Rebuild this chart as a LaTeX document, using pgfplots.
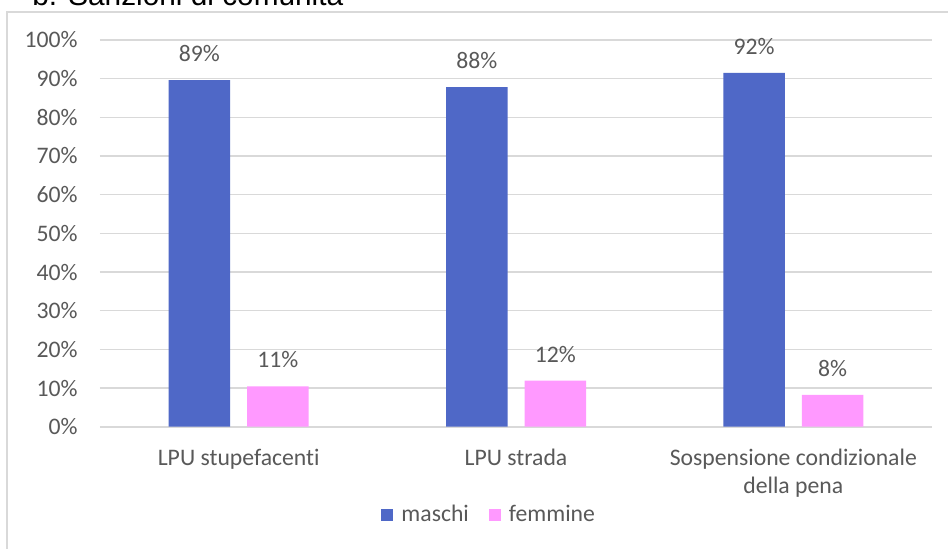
\documentclass[border=0pt]{standalone}
\usepackage{pgfplots}
\usepackage{pgfplotstable}
\pgfplotsset{compat=1.18}
\usepackage{fontspec}
\setmainfont{Carlito}[Ligatures=NoCommon]
\newfontfamily\arialfont{Liberation Sans}
\definecolor{maschi}{RGB}{79,104,199}
\definecolor{femmine}{RGB}{255,153,255}
\definecolor{txt}{RGB}{89,89,89}
\definecolor{gridc}{RGB}{217,217,217}
\pgfplotstableread{
x m ml f fl
0 89.6 89 10.4 11
1 87.8 88 11.9 12
2 91.5 92 8.2 8
}\data
\begin{document}
\begin{tikzpicture}[x=1pt,y=1pt]
\clip (0,0) rectangle (474,274);
\fill[white] (0,0) rectangle (474,274);
\draw[gridc, line width=0.8pt] (3.5,-10) -- (3.5,268) -- (480,268);
\node[anchor=base west, inner sep=0pt, font=\arialfont\fontsize{14.9}{17}\selectfont] at (16,271.5) {b. Sanzioni di comunità};
\begin{axis}[
  at={(50pt,60.65pt)}, anchor=south west,
  scale only axis, width=416pt, height=193.35pt,
  xmin=-0.5, xmax=2.5, ymin=0, ymax=100,
  enlargelimits=false,
  axis line style={draw=none},
  major tick length=0pt,
  ymajorgrids, grid style={gridc, line width=0.8pt},
  ytick={0,10,...,100},
  yticklabels={0\%,10\%,20\%,30\%,40\%,50\%,60\%,70\%,80\%,90\%,100\%},
  y tick label style={inner sep=0pt, anchor=east, xshift=-11pt},
  xtick={0,1,2},
  xticklabels={LPU stupefacenti, LPU strada, {Sospensione condizionale\\della pena}},
  x tick label style={inner sep=0pt, anchor=north, yshift=-10.8pt, align=center},
  tick label style={font=\fontsize{11.85}{14.3}\selectfont, text=txt},
  ybar=8.5pt, bar width=30.75pt,
  nodes near coords={\pgfplotspointmeta\%},
  every node near coord/.append style={font=\fontsize{11.85}{14.3}\selectfont, text=txt, inner sep=0pt, yshift=9pt},
  legend columns=2,
  legend style={draw=none, at={(0.469,-0.228)}, anchor=center, font=\fontsize{11.85}{14.3}\selectfont, text=txt,
    /tikz/every even column/.append style={column sep=8pt}},
  legend image code/.code={\fill[#1] (0pt,-3pt) rectangle (6pt,3pt); \path (8pt,0pt);},
]
\addplot[fill=maschi, draw=none, point meta=explicit symbolic] table[x=x, y=m, meta=ml] {\data};
\addplot[fill=femmine, draw=none, point meta=explicit symbolic] table[x=x, y=f, meta=fl] {\data};
\legend{maschi, femmine}
\end{axis}
\end{tikzpicture}
\end{document}
